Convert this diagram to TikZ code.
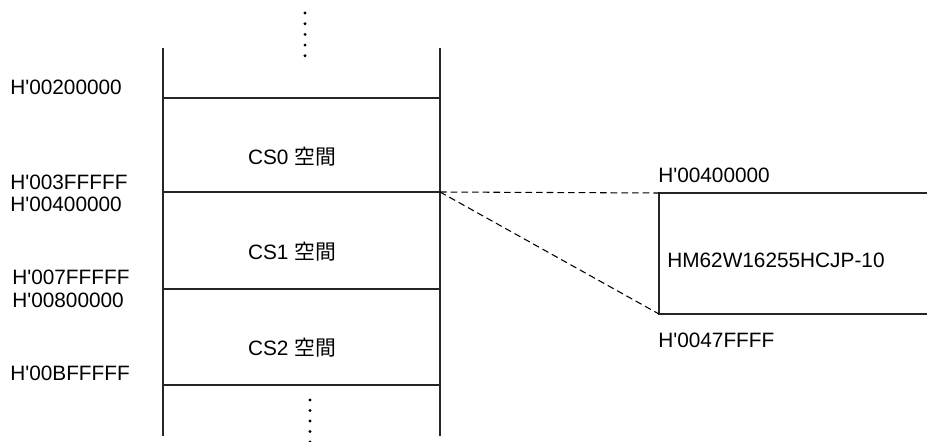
\documentclass[tikz,border=0pt]{standalone}
\usepackage{fontspec}
\setmainfont{Liberation Sans}[Ligatures=TeXOff]
\newfontfamily\cjk{Noto Sans CJK JP}
\begin{document}
\begin{tikzpicture}[x=0.75pt,y=-0.75pt,
  lbl/.style={font=\fontsize{15.6pt}{18pt}\selectfont, inner sep=0pt, anchor=west},
  cstext/.style={font=\fontsize{15.6pt}{18pt}\selectfont, inner sep=0pt},
  wall/.style={line width=0.9pt, black!85},
  dline/.style={line width=0.8pt, dash pattern=on 5pt off 3pt},
  dotmark/.style={circle, fill=black, inner sep=0pt, minimum size=2.4pt}]
\useasboundingbox (0,0) rectangle (927,442);
% column
\coordinate (tl) at (163,48);
\coordinate (bl) at (163,436);
\coordinate (tr) at (440,48);
\coordinate (br) at (440,436);
\draw[wall] (tl) -- (bl);
\draw[wall] (tr) -- (br);
\coordinate (l1) at (163,98);  \coordinate (r1) at (440,98);
\coordinate (l2) at (163,192); \coordinate (r2) at (440,192);
\coordinate (l3) at (163,289); \coordinate (r3) at (440,289);
\coordinate (l4) at (163,385); \coordinate (r4) at (440,385);
\draw[wall] (l1) -- (r1);
\draw[wall] (l2) -- (r2);
\draw[wall] (l3) -- (r3);
\draw[wall] (l4) -- (r4);
% dots
\foreach \i/\y in {1/13,2/23.7,3/34.4,4/45.1,5/55.8}
  \node[dotmark] (td\i) at (305,\y) {};
\foreach \i/\y in {1/400,2/410.5,3/421,4/431.5,5/442}
  \node[dotmark] (bd\i) at (310,\y) {};
% texts
\node[cstext] (cs0) at (292,157) {CS0 {\cjk 空間}};
\node[cstext] (cs1) at (292,252) {CS1 {\cjk 空間}};
\node[cstext] (cs2) at (292,348) {CS2 {\cjk 空間}};
\node[lbl] (a1) at (10,87) {H'00200000};
\node[lbl] (a2) at (10,182) {H'003FFFFF};
\node[lbl] (a3) at (10,204) {H'00400000};
\node[lbl] (a4) at (12,277) {H'007FFFFF};
\node[lbl] (a5) at (12,300) {H'00800000};
\node[lbl] (a6) at (10,373) {H'00BFFFFF};
% right box
\coordinate (btl) at (659,193);
\coordinate (bbl) at (659,314);
\coordinate (btr) at (927,193);
\coordinate (bbr) at (927,314);
\draw[wall] (btr) -- (btl) -- (bbl) -- (bbr);
\node[lbl] (chip) at (667,260) {HM62W16255HCJP-10};
\node[lbl] (b1) at (658,175) {H'00400000};
\node[lbl] (b2) at (658,340) {H'0047FFFF};
% dashed connectors
\draw[dline] (r2) -- (btl);
\draw[dline] (r2) -- (bbl);
\end{tikzpicture}
\end{document}
